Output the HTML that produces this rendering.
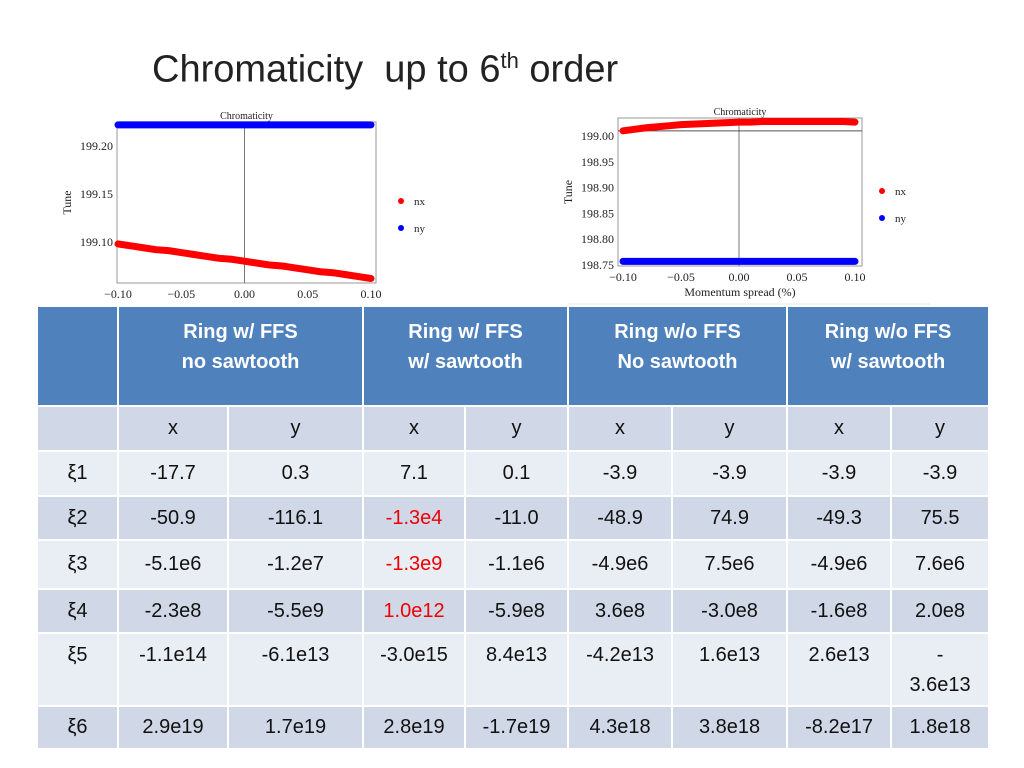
<!DOCTYPE html>
<html><head><meta charset="utf-8"><style>
body{margin:0;width:1024px;height:768px;background:#fff;position:relative;overflow:hidden;font-family:"Liberation Sans",sans-serif}
#title{position:absolute;left:152px;top:48px;font-size:38px;color:#222;white-space:nowrap}
#title sup{font-size:22px}
svg text{font-family:"Liberation Serif",serif;fill:#222}
table{position:absolute;left:36px;top:305px;border-collapse:collapse;table-layout:fixed;width:952px}
td{border:2px solid #fff;text-align:center;font-size:20px;color:#111;padding:0;vertical-align:middle}
tr.h td{background:#4f81bd;color:#fff;font-weight:bold;vertical-align:top;padding-top:10px;line-height:30px}
tr.d td{background:#d0d8e8}
tr.l td{background:#e9edf4}
.r{color:#e00!important}
tr.t td{vertical-align:top;line-height:30px;padding-top:6px}
</style></head><body>
<div id="title">Chromaticity&nbsp; up to 6<sup>th</sup> order</div>
<svg id="c1" width="1024" height="305" style="position:absolute;left:0;top:0"></svg>
<div style="position:absolute;left:568px;top:303px;width:362px;height:6px;background:#f4f4f4"></div>
<table>
<colgroup><col style="width:81px"><col style="width:110px"><col style="width:135px"><col style="width:102px"><col style="width:103px"><col style="width:104px"><col style="width:115px"><col style="width:104px"><col style="width:98px"></colgroup>
<tr class="h" style="height:100px"><td></td><td colspan="2">Ring w/ FFS<br>no sawtooth</td><td colspan="2">Ring w/ FFS<br>w/ sawtooth</td><td colspan="2">Ring w/o FFS<br>No sawtooth</td><td colspan="2">Ring w/o FFS<br>w/ sawtooth</td></tr>
<tr class="d" style="height:45px"><td></td><td>x</td><td>y</td><td>x</td><td>y</td><td>x</td><td>y</td><td>x</td><td>y</td></tr>
<tr class="l" style="height:45px"><td>ξ1</td><td>-17.7</td><td>0.3</td><td>7.1</td><td>0.1</td><td>-3.9</td><td>-3.9</td><td>-3.9</td><td>-3.9</td></tr>
<tr class="d" style="height:44px"><td>ξ2</td><td>-50.9</td><td>-116.1</td><td class="r">-1.3e4</td><td>-11.0</td><td>-48.9</td><td>74.9</td><td>-49.3</td><td>75.5</td></tr>
<tr class="l" style="height:49px"><td>ξ3</td><td>-5.1e6</td><td>-1.2e7</td><td class="r">-1.3e9</td><td>-1.1e6</td><td>-4.9e6</td><td>7.5e6</td><td>-4.9e6</td><td>7.6e6</td></tr>
<tr class="d" style="height:44px"><td>ξ4</td><td>-2.3e8</td><td>-5.5e9</td><td class="r">1.0e12</td><td>-5.9e8</td><td>3.6e8</td><td>-3.0e8</td><td>-1.6e8</td><td>2.0e8</td></tr>
<tr class="l t" style="height:73px"><td>ξ5</td><td>-1.1e14</td><td>-6.1e13</td><td>-3.0e15</td><td>8.4e13</td><td>-4.2e13</td><td>1.6e13</td><td>2.6e13</td><td>-<br>3.6e13</td></tr>
<tr class="d" style="height:43px"><td>ξ6</td><td>2.9e19</td><td>1.7e19</td><td>2.8e19</td><td>-1.7e19</td><td>4.3e18</td><td>3.8e18</td><td>-8.2e17</td><td>1.8e18</td></tr>
</table>
<script>
const xs = [-0.10,-0.09,-0.08,-0.07,-0.06,-0.05,-0.04,-0.03,-0.02,-0.01,0,0.01,0.02,0.03,0.04,0.05,0.06,0.07,0.08,0.09,0.10];
const nx1 = [199.098,199.096,199.094,199.092,199.091,199.089,199.087,199.085,199.083,199.082,199.080,199.078,199.076,199.075,199.073,199.071,199.069,199.068,199.066,199.064,199.062];
const ny1 = [199.222,199.222,199.222,199.222,199.222,199.222,199.222,199.222,199.222,199.222,199.222,199.222,199.222,199.222,199.222,199.222,199.222,199.222,199.222,199.222,199.222];
const nx2 = [199.010,199.013,199.016,199.018,199.020,199.022,199.023,199.024,199.025,199.026,199.027,199.027,199.028,199.028,199.028,199.028,199.028,199.028,199.028,199.028,199.027];
const ny2 = [198.757,198.757,198.757,198.757,198.757,198.757,198.757,198.757,198.757,198.757,198.757,198.757,198.757,198.757,198.757,198.757,198.757,198.757,198.757,198.757,198.757];
const xTicks = ["-0.10","-0.05","0.00","0.05","0.10"];
const yTicks1 = ["199.10","199.15","199.20"];
const yTicks2 = ["198.75","198.80","198.85","198.90","198.95","199.00"];
const NS='http://www.w3.org/2000/svg';
const svg=document.getElementById('c1');
function mk(t,a,txt){const e=document.createElementNS(NS,t);for(const k in a)e.setAttribute(k,a[k]);if(txt!==undefined)e.textContent=txt;svg.appendChild(e);return e;}
function chart(c){
  const sx=v=>c.x0+(v+0.1)/0.2*(c.x1-c.x0);
  const sy=v=>c.yA+(v-c.vA)/(c.vB-c.vA)*(c.yB-c.yA);
  const f=mk('rect',{x:c.L,y:c.T,width:c.R-c.L,height:c.B-c.T,fill:'none',stroke:'#999','stroke-width':1});
  
  
  const zl=mk('line',{x1:sx(0),x2:sx(0),y1:c.T,y2:c.B,stroke:'#777','stroke-width':1});
  
  
  if(c.hline!==undefined){const h=mk('line',{x1:c.L,x2:c.R,y1:sy(c.hline),y2:sy(c.hline),stroke:'#555','stroke-width':1});
    
    }
  xTicks.forEach(t=>{const e=mk('text',{x:sx(+t),y:c.B+15,'font-size':12,'text-anchor':'middle'},t.replace('-','\u2212'));
    
    });
  c.yt.forEach(t=>{const e=mk('text',{x:c.L-4,y:sy(+t)+4,'font-size':12,'text-anchor':'end'},t);
    
    });
  const tt=mk('text',{x:(c.L+c.R)/2,y:c.T-3,'font-size':10,'text-anchor':'middle'},'Chromaticity');
  
  
  const yl=mk('text',{x:0,y:0,'font-size':12,'text-anchor':'middle',transform:`translate(${c.L-46},${(c.T+c.B)/2}) rotate(-90)`},'Tune');
  
  
  if(c.xlabel){const xl=mk('text',{x:(c.L+c.R)/2,y:c.B+30,'font-size':12,'text-anchor':'middle'},c.xlabel);
    
    }
  [[c.nx,'#f00','nx'],[c.ny,'#00f','ny']].forEach(([d,col,nm],i)=>{
    const pts=d.map((v,j)=>sx(xs[j])+','+sy(v)).join(' ');
    const p=mk('polyline',{points:pts,fill:'none',stroke:col,'stroke-width':7,'stroke-linecap':'round','stroke-linejoin':'round'});
    
    
    const lc=mk('circle',{cx:c.lx,cy:c.ly+i*27,r:3,fill:col});
    
    
    const lt=mk('text',{x:c.lx+13,y:c.ly+i*27+4,'font-size':11},nm);
    
    
  });
}
chart({id:'left-chart',L:117,R:376,T:122,B:283,x0:118,x1:371,yA:146,vA:199.20,yB:242,vB:199.10,yt:yTicks1,nx:nx1,ny:ny1,lx:401,ly:201});
chart({id:'right-chart',L:618,R:862,T:118,B:266,x0:623,x1:855,yA:136,vA:199.00,yB:265,vB:198.75,yt:yTicks2,nx:nx2,ny:ny2,lx:882,ly:191,hline:199.01,xlabel:'Momentum spread (%)'});
</script>
</body></html>
